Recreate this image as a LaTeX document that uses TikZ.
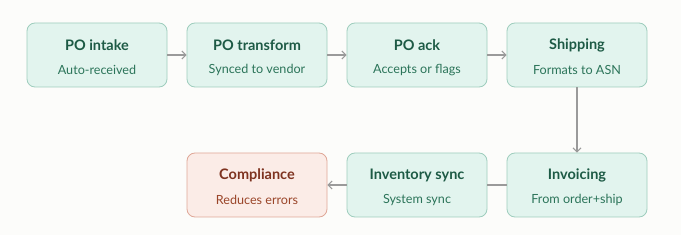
\documentclass[tikz,border=0pt]{standalone}
\usepackage{fontspec}
\setmainfont{Lato}
\usetikzlibrary{arrows.meta}
\definecolor{bg}{HTML}{FCFCFA}
\definecolor{gfill}{HTML}{E2F4EE}
\definecolor{gline}{HTML}{9ECDBD}
\definecolor{gtitle}{HTML}{1D5A45}
\definecolor{gsub}{HTML}{2B7459}
\definecolor{rfill}{HTML}{FBECE7}
\definecolor{rline}{HTML}{DFA797}
\definecolor{rtitle}{HTML}{7E3320}
\definecolor{rsub}{HTML}{9A4529}
\definecolor{arr}{HTML}{9A9A9A}
\tikzset{
  stepbox/.style={draw=gline, fill=gfill, line width=0.8pt, rounded corners=8pt,
    minimum width=140pt, minimum height=64pt, inner sep=0pt},
  redbox/.style={stepbox, draw=rline, fill=rfill},
  conn/.style={draw=arr, line width=1.4pt, -{Straight Barb[length=4pt,width=8pt,line width=1.1pt]}},
  plainconn/.style={draw=arr, line width=1.4pt},
  tt/.style={font=\fontsize{14.5}{16}\selectfont\bfseries, text=gtitle},
  st/.style={font=\fontsize{12.6}{14}\selectfont, text=gsub},
}
\begin{document}
\begin{tikzpicture}[x=1pt,y=-1pt]
\fill[bg] (0,0) rectangle (681,235);
\useasboundingbox (0,0) rectangle (681,235);
\node[stepbox] (a) at (97,55) {};
\node[stepbox] (b) at (257,55) {};
\node[stepbox] (c) at (417,55) {};
\node[stepbox] (d) at (577,55) {};
\node[stepbox] (e) at (577,185) {};
\node[stepbox] (f) at (417,185) {};
\node[redbox] (g) at (257,185) {};
\node[tt] (at) at (97,45) {PO intake};
\node[st] (as) at (97,70) {Auto-received};
\node[tt] (bt) at (257,45) {PO transform};
\node[st] (bs) at (257,70) {Synced to vendor};
\node[tt] (ct) at (417,45) {PO ack};
\node[st] (cs) at (417,70) {Accepts or flags};
\node[tt] (dt) at (577,45) {Shipping};
\node[st] (ds) at (577,70) {Formats to ASN};
\node[tt] (et) at (577,175) {Invoicing};
\node[st] (es) at (577,200) {From order+ship};
\node[tt] (ft) at (417,175) {Inventory sync};
\node[st] (fs) at (417,200) {System sync};
\node[tt, text=rtitle] (gt) at (257,175) {Compliance};
\node[st, text=rsub] (gs) at (257,200) {Reduces errors};
\draw[conn] (a) -- (b);
\draw[conn] (b) -- (c);
\draw[conn] (c) -- (d);
\draw[conn] (d) -- (e);
\draw[plainconn] (e) -- (f);
\draw[conn] (f) -- (g);
\end{tikzpicture}
\end{document}
